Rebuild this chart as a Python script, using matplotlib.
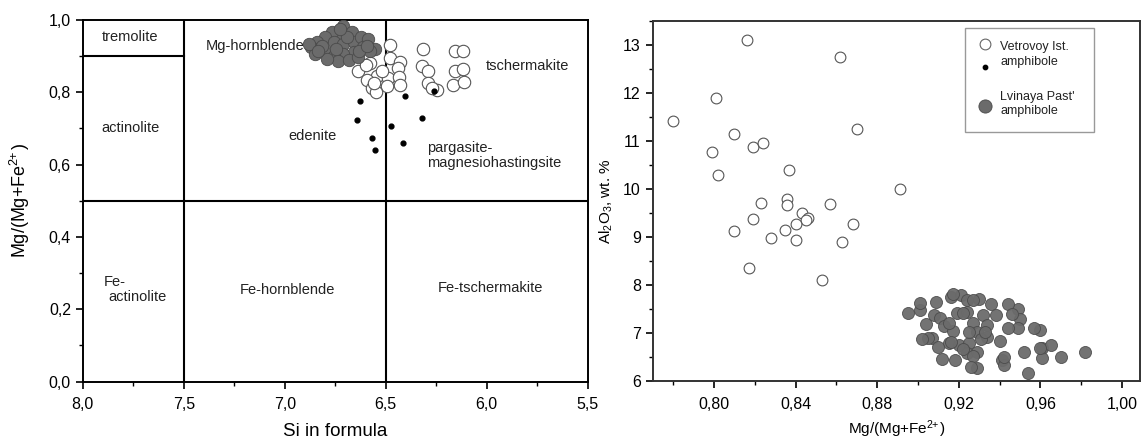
import matplotlib
matplotlib.use("Agg")
import matplotlib.pyplot as plt
from matplotlib.ticker import MultipleLocator, FuncFormatter
from matplotlib.patches import Rectangle

plt.rcParams['font.family'] = ['Liberation Sans', 'DejaVu Sans']
plt.rcParams['mathtext.fontset'] = 'custom'
plt.rcParams['mathtext.rm'] = 'Liberation Sans'
plt.rcParams['mathtext.default'] = 'regular'

# ---- left panel: Si vs Mg/(Mg+Fe2+) ----
lv_si = [6.711, 6.720, 6.764, 6.666, 6.799, 6.843, 6.870, 6.852, 6.808, 6.755,
         6.711, 6.657, 6.622, 6.586, 6.613, 6.551, 6.578, 6.657, 6.711, 6.755,
         6.737, 6.684, 6.640, 6.790, 6.817, 6.693, 6.746, 6.631, 6.595, 6.879,
         6.728, 6.834]
lv_mg = [0.984, 0.961, 0.966, 0.966, 0.952, 0.938, 0.924, 0.906, 0.915, 0.938,
         0.934, 0.938, 0.952, 0.947, 0.924, 0.920, 0.915, 0.911, 0.906, 0.901,
         0.888, 0.889, 0.897, 0.892, 0.929, 0.952, 0.920, 0.915, 0.929, 0.933,
         0.975, 0.915]

vt_si = [6.479, 6.317, 6.157, 6.116, 6.479, 6.430, 6.578, 6.322, 6.290, 6.157,
         6.116, 6.636, 6.545, 6.440, 6.488, 6.433, 6.595, 6.290, 6.166, 6.113,
         6.570, 6.496, 6.430, 6.248, 6.273, 6.600, 6.550, 6.520, 6.560]
vt_mg = [0.930, 0.920, 0.915, 0.915, 0.895, 0.883, 0.881, 0.872, 0.858, 0.858,
         0.865, 0.858, 0.844, 0.868, 0.840, 0.843, 0.835, 0.826, 0.821, 0.828,
         0.812, 0.817, 0.821, 0.807, 0.812, 0.875, 0.800, 0.860, 0.826]

dot_si = [6.627, 6.641, 6.567, 6.553, 6.476, 6.405, 6.413, 6.319, 6.260]
dot_mg = [0.775, 0.724, 0.674, 0.641, 0.706, 0.789, 0.660, 0.729, 0.803]

# ---- right panel: Mg/(Mg+Fe2+) vs Al2O3 ----
vt_x = [0.816, 0.862, 0.801, 0.780, 0.870, 0.810, 0.799, 0.819, 0.824, 0.802,
        0.837, 0.891, 0.823, 0.836, 0.836, 0.857, 0.843, 0.846, 0.845, 0.840,
        0.819, 0.810, 0.835, 0.828, 0.840, 0.868, 0.863, 0.817, 0.853]
vt_al = [13.09, 12.74, 11.89, 11.42, 11.25, 11.14, 10.76, 10.88, 10.95, 10.28,
         10.40, 9.99, 9.71, 9.79, 9.67, 9.69, 9.49, 9.40, 9.35, 9.26,
         9.38, 9.13, 9.15, 8.97, 8.94, 9.27, 8.89, 8.35, 8.10]

lv_x = [0.895, 0.901, 0.901, 0.909, 0.904, 0.908, 0.911, 0.916, 0.921, 0.924,
        0.930, 0.936, 0.938, 0.919, 0.924, 0.932, 0.927, 0.913, 0.917, 0.907,
        0.915, 0.920, 0.925, 0.929, 0.934, 0.934, 0.924, 0.918, 0.929, 0.929,
        0.940, 0.941, 0.942, 0.910, 0.960, 0.961, 0.961, 0.965, 0.970, 0.982,
        0.949, 0.950, 0.949, 0.957, 0.952, 0.944, 0.946, 0.944, 0.942, 0.954,
        0.960, 0.917, 0.927, 0.922, 0.915, 0.925, 0.916, 0.922, 0.927, 0.926,
        0.931, 0.933, 0.905, 0.902, 0.912]
lv_al = [7.43, 7.49, 7.62, 7.64, 7.19, 7.38, 7.31, 7.75, 7.80, 7.68,
         7.71, 7.61, 7.38, 7.42, 7.45, 7.38, 7.21, 7.14, 7.05, 6.90,
         6.80, 6.76, 6.79, 7.03, 7.17, 6.93, 6.58, 6.44, 6.60, 6.27,
         6.83, 6.44, 6.33, 6.72, 7.07, 6.69, 6.48, 6.76, 6.50, 6.60,
         7.50, 7.30, 7.10, 7.10, 6.60, 7.60, 7.40, 7.10, 6.50, 6.18,
         6.70, 7.81, 7.70, 7.43, 7.22, 7.02, 6.81, 6.67, 6.53, 6.29,
         6.88, 7.02, 6.91, 6.88, 6.46]

fig = plt.figure(figsize=(11.42, 4.41), dpi=100)
ax1 = fig.add_axes([0.0725, 0.1349, 0.4422, 0.8197])
ax2 = fig.add_axes([0.5715, 0.1354, 0.4271, 0.8180])

comma = lambda fmt: FuncFormatter(lambda v, p: (fmt % v).replace('.', ','))

# superscript "2+" without the operator gap mathtext puts around "+"
mg_label = 'Mg/(Mg+Fe$^{2\\!\\!+}$)'

# left panel
ax1.set_xlim(8.0, 5.5)
ax1.set_ylim(0.0, 1.0)
ax1.axvline(7.5, color='black', lw=1.5, zorder=1)
ax1.axvline(6.5, color='black', lw=1.5, zorder=1)
ax1.axhline(0.5, color='black', lw=1.5, zorder=1)
ax1.plot([8.0, 7.5], [0.9, 0.9], color='black', lw=1.5, zorder=1)

ax1.scatter(vt_si, vt_mg, s=80, facecolor='white', edgecolor='#555555', lw=0.8, zorder=3)
ax1.scatter(lv_si, lv_mg, s=80, facecolor='#6b6b6b', edgecolor='#4a4a4a', lw=0.6, zorder=4)
ax1.scatter(dot_si, dot_mg, s=12, color='black', zorder=5)

lab = dict(fontsize=10.5, color='#222222')
ax1.text(7.764, 0.954, 'tremolite', ha='center', va='center', **lab)
ax1.text(7.145, 0.927, 'Mg-hornblende', ha='center', va='center', **lab)
ax1.text(6.005, 0.872, 'tschermakite', ha='left', va='center', **lab)
ax1.text(7.764, 0.701, 'actinolite', ha='center', va='center', **lab)
ax1.text(6.865, 0.680, 'edenite', ha='center', va='center', **lab)
ax1.text(6.295, 0.624, 'pargasite-\nmagnesiohastingsite', ha='left', va='center',
         linespacing=1.1, **lab)
ax1.text(7.840, 0.275, 'Fe-', ha='center', va='center', **lab)
ax1.text(7.729, 0.233, 'actinolite', ha='center', va='center', **lab)
ax1.text(6.989, 0.253, 'Fe-hornblende', ha='center', va='center', **lab)
ax1.text(5.984, 0.259, 'Fe-tschermakite', ha='center', va='center', **lab)

ax1.xaxis.set_major_locator(MultipleLocator(0.5))
ax1.xaxis.set_minor_locator(MultipleLocator(0.25))
ax1.yaxis.set_major_locator(MultipleLocator(0.2))
ax1.yaxis.set_minor_locator(MultipleLocator(0.1))
ax1.xaxis.set_major_formatter(comma('%.1f'))
ax1.yaxis.set_major_formatter(comma('%.1f'))
ax1.set_xlabel('Si in formula', fontsize=13.5, labelpad=8)
ax1.set_ylabel(mg_label, fontsize=13, labelpad=12)

# right panel
ax2.set_xlim(0.77, 1.009)
ax2.set_ylim(6, 13.5)
ax2.scatter(vt_x, vt_al, s=60, facecolor='white', edgecolor='#555555', lw=0.8, zorder=3)
ax2.scatter(lv_x, lv_al, s=75, facecolor='#6b6b6b', edgecolor='#4a4a4a', lw=0.6,
            alpha=0.95, zorder=4)
ax2.xaxis.set_major_locator(MultipleLocator(0.04))
ax2.xaxis.set_minor_locator(MultipleLocator(0.02))
ax2.yaxis.set_major_locator(MultipleLocator(1))
ax2.yaxis.set_minor_locator(MultipleLocator(0.5))
ax2.xaxis.set_major_formatter(comma('%.2f'))
ax2.set_xlabel(mg_label, fontsize=11, labelpad=5)
ax2.set_ylabel('Al$_2$O$_3$, wt. %', fontsize=11, labelpad=6)

# hand-made legend box
ax2.add_patch(Rectangle((0.641, 0.692), 0.263, 0.286, transform=ax2.transAxes,
                        facecolor='white', edgecolor='#999999', lw=1.0, zorder=6))
ax2.scatter([0.682], [0.935], s=60, facecolor='white', edgecolor='#666666', lw=0.8,
            transform=ax2.transAxes, zorder=7)
ax2.scatter([0.682], [0.872], s=10, color='black', transform=ax2.transAxes, zorder=7)
ax2.scatter([0.682], [0.763], s=90, facecolor='#6b6b6b', edgecolor='#4a4a4a', lw=0.6,
            transform=ax2.transAxes, zorder=7)
leg = dict(fontsize=9, color='#222222', ha='left', va='center', transform=ax2.transAxes, zorder=7)
ax2.text(0.713, 0.927, 'Vetrovoy Ist.', **leg)
ax2.text(0.713, 0.886, 'amphibole', **leg)
ax2.text(0.713, 0.789, "Lvinaya Past'", **leg)
ax2.text(0.713, 0.750, 'amphibole', **leg)

for ax, sc in ((ax1, 'black'), (ax2, '#333333')):
    for sp in ax.spines.values():
        sp.set_linewidth(1.4)
        sp.set_color(sc)
    ax.tick_params(which='major', direction='out', length=5, width=1.2, labelsize=11.5)
    ax.tick_params(which='minor', direction='out', length=3, width=1.0)
    ax.tick_params(axis='x', which='major', pad=6)

fig.savefig('out.png', dpi=100)
